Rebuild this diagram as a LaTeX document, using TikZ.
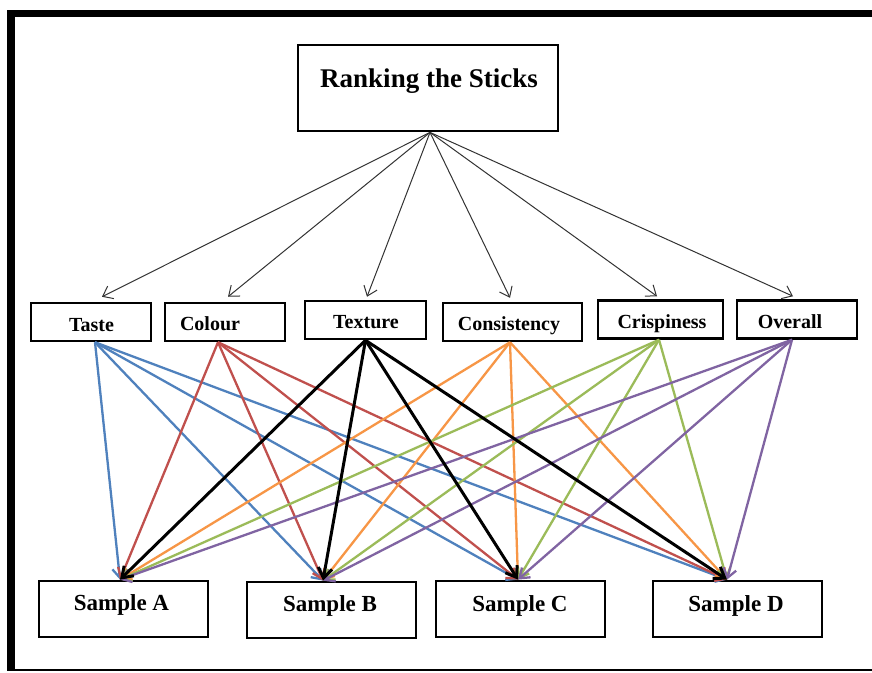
\documentclass[tikz,border=0pt]{standalone}
\usepackage{fontspec}
\setmainfont{Liberation Serif}
\usetikzlibrary{arrows.meta}
\definecolor{cblue}{HTML}{4F81BD}
\definecolor{cred}{HTML}{C0504D}
\definecolor{corange}{HTML}{F79646}
\definecolor{cgreen}{HTML}{9BBB59}
\definecolor{cpurple}{HTML}{8064A2}
\definecolor{cdark}{HTML}{333333}
\begin{document}
\begin{tikzpicture}[x=1pt,y=-1pt,
  catbox/.style={draw, line width=2.5pt, rectangle, inner sep=0pt, minimum height=38pt},
  bigbox/.style={draw, line width=2.8pt, rectangle, inner sep=0pt},
  catlbl/.style={anchor=base, inner sep=0pt, font=\bfseries\fontsize{20}{24}\selectfont},
  samlbl/.style={anchor=base, inner sep=0pt, font=\bfseries\fontsize{23}{27}\selectfont},
  toparrow/.style={draw=cdark, line width=1pt, -{Straight Barb[length=9pt,width=14pt]}},
  linkarrow/.style={line width=2.3pt, -{Straight Barb[length=9pt,width=13pt]}},
  blackarrow/.style={draw=black, line width=3pt, -{Straight Barb[length=10pt,width=14pt]}}]
\useasboundingbox (0,0) rectangle (872,672);
\fill[white] (0,0) rectangle (872,672);
% frame
\draw[line width=7pt] (7,13.5) -- (872,13.5);
\draw[line width=8pt] (11,10) -- (11,671);
\draw[line width=2pt] (7,670) -- (872,670);

% boxes
\node[bigbox, minimum width=260pt, minimum height=86pt] (rank) at (428,88) {};
\node[catbox, minimum width=120pt] (taste) at (91,322) {};
\node[catbox, minimum width=120pt] (colour) at (225,322) {};
\node[catbox, minimum width=121pt] (texture) at (365.5,320) {};
\node[catbox, minimum width=139pt] (consist) at (512.5,322) {};
\node[catbox, minimum width=125pt] (crisp) at (660.5,319.5) {};
\node[catbox, minimum width=120pt] (overall) at (797,319.5) {};
\node[bigbox, minimum width=169pt, minimum height=56pt] (sA) at (123.5,609) {};
\node[bigbox, minimum width=169pt, minimum height=56pt] (sB) at (331.5,610) {};
\node[bigbox, minimum width=169pt, minimum height=56pt] (sC) at (520.5,609) {};
\node[bigbox, minimum width=169pt, minimum height=56pt] (sD) at (737.5,609) {};

% labels
\node[anchor=base, inner sep=0pt, font=\bfseries\fontsize{27}{31}\selectfont] (rankt) at (429,87) {Ranking the Sticks};
\node[catlbl] (tastet) at (91.5,331) {Taste};
\node[catlbl] (colourt) at (210,330) {Colour};
\node[catlbl] (texturet) at (366,328) {Texture};
\node[catlbl] (consistt) at (509,330) {Consistency};
\node[catlbl] (crispt) at (662,328) {Crispiness};
\node[catlbl] (overallt) at (790,328) {Overall};
\node[samlbl] (sAt) at (121.5,610) {Sample A};
\node[samlbl] (sBt) at (330,611) {Sample B};
\node[samlbl] (sCt) at (520,611) {Sample C};
\node[samlbl] (sDt) at (736,611) {Sample D};

% top arrows
\draw[toparrow] ([xshift=2pt]rank.south) -- ([xshift=11pt,yshift=5pt]taste.north);
\draw[toparrow] ([xshift=2pt]rank.south) -- ([xshift=3pt,yshift=5pt]colour.north);
\draw[toparrow] ([xshift=2pt]rank.south) -- ([xshift=1.5pt,yshift=3pt]texture.north);
\draw[toparrow] ([xshift=2pt]rank.south) -- ([xshift=-2.5pt,yshift=4pt]consist.north);
\draw[toparrow] ([xshift=2pt]rank.south) -- ([xshift=-3.5pt,yshift=3pt]crisp.north);
\draw[toparrow] ([xshift=2pt]rank.south) -- ([xshift=-4pt,yshift=3pt]overall.north);

% links from criteria to samples
\foreach \s/\sx/\c in {taste/4/cblue, colour/-7/cred, consist/-2.5/corange, crisp/-1.5/cgreen, overall/-5/cpurple}{
  \foreach \t/\tx in {sA/-3.5, sB/-8.5, sC/-2.5, sD/-10.5}{
    \draw[linkarrow, draw=\c] ([xshift=\sx pt]\s.south) -- ([xshift=\tx pt]\t.north);
  }
}
\foreach \t/\tx in {sA/-3.5, sB/-8.5, sC/-2.5, sD/-10.5}{
  \draw[blackarrow] (texture.south) -- ([xshift=\tx pt]\t.north);
}
\end{tikzpicture}
\end{document}
